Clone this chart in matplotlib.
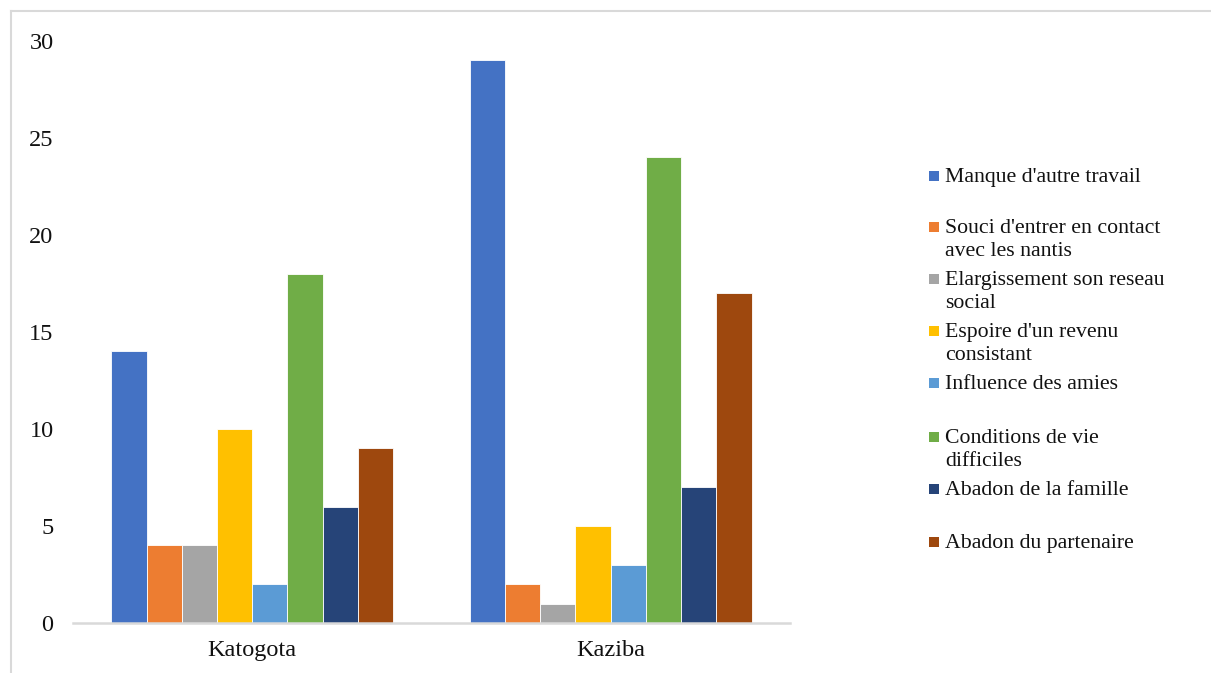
import matplotlib.pyplot as plt
import numpy as np
from matplotlib.lines import Line2D
from matplotlib.patches import Rectangle

plt.rcParams['font.family'] = ['Liberation Serif', 'DejaVu Serif']

sites = ["Katogota", "Kaziba"]
reasons = ["Manque d'autre travail",
           "Souci d'entrer en contact\navec les nantis",
           "Elargissement son reseau\nsocial",
           "Espoire d'un revenu\nconsistant",
           "Influence des amies",
           "Conditions de vie\ndifficiles",
           "Abadon de la famille",
           "Abadon du partenaire"]
katogota = [14, 4, 4, 10, 2, 18, 6, 9]
kaziba = [29, 2, 1, 5, 3, 24, 7, 17]

colors = ["#4472C4", "#ED7D31", "#A5A5A5", "#FFC000",
          "#5B9BD5", "#70AD47", "#264478", "#9E480E"]

fig = plt.figure(figsize=(12.11, 6.73), dpi=100)
ax = fig.add_axes([0.0603, 0.0743, 0.592, 0.8648])

x = np.arange(len(sites))
w = 0.0983
for i, name in enumerate(reasons):
    vals = [katogota[i], kaziba[i]]
    ax.bar(x + (i - 3.5) * w, vals, width=w, color=colors[i],
           edgecolor="white", linewidth=0.6, label=name)

ax.set_xlim(-0.5, 1.5)
ax.set_ylim(0, 30)
ax.set_yticks(range(0, 31, 5))
ax.set_xticks(x)
ax.set_xticklabels(sites)
ax.tick_params(axis="both", length=0, labelsize=17.5, colors="#111111")
ax.tick_params(axis="y", pad=14)
ax.tick_params(axis="x", pad=12)
for s in ["top", "right", "left"]:
    ax.spines[s].set_visible(False)
ax.spines["bottom"].set_color("#d9d9d9")
ax.spines["bottom"].set_linewidth(1.8)

# legend drawn by hand, one fixed slot per entry
W, H = fig.get_size_inches() * fig.dpi
slot_y = [176, 227, 279, 331, 383, 437, 489, 542]
for name, c, yy in zip(reasons, colors, slot_y):
    fig.patches.append(Rectangle((929 / W, 1 - (yy + 5) / H), 10 / W, 10 / H,
                                 transform=fig.transFigure, facecolor=c,
                                 edgecolor="none"))
    fig.text(945 / W, 1 - (yy - 8) / H, name, fontsize=15.7, va="top",
             ha="left", color="#111111", linespacing=1.28)

# chart area frame
fig.lines.append(Line2D([11 / W, 11 / W], [0, 1 - 11 / H],
                        transform=fig.transFigure, color="#d9d9d9", lw=1.5))
fig.lines.append(Line2D([11 / W, 1], [1 - 11 / H, 1 - 11 / H],
                        transform=fig.transFigure, color="#d9d9d9", lw=1.5))

fig.savefig("out.png", dpi=100)
